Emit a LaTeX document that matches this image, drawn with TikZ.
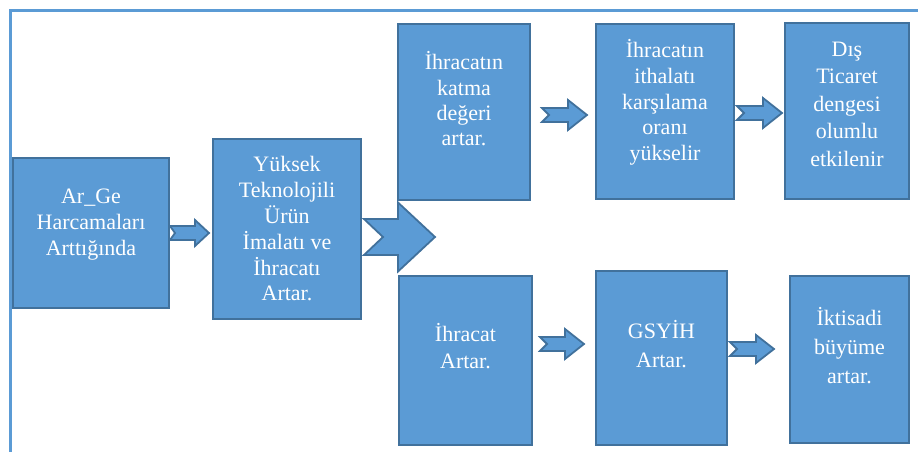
\documentclass[tikz,border=0pt]{standalone}
\usepackage{fontspec}
\setmainfont{Liberation Serif}
\newfontfamily\boxfont{Liberation Serif}
\usepackage{tikz}
\usetikzlibrary{calc}
\definecolor{boxfill}{HTML}{5B9BD5}
\definecolor{boxline}{HTML}{41719C}
\tikzset{
  flowrect/.style={rectangle, draw=boxline, fill=boxfill, line width=2pt, inner sep=0pt},
  flowtext/.style={align=center, text=white, inner sep=0pt},
  fatarrow/.style={draw=boxline, fill=boxfill, line width=1.8pt, line join=miter},
  frameline/.style={draw=boxfill, line width=2.5pt}
}
\newcommand{\flowbox}[4] {\node at (#1) (#2) [flowrect, minimum width=#3pt, minimum height=#4pt] {};}
\newcommand{\flowtext}[4] {\node at ([yshift=#2pt]#1.center) (#1text) [flowtext, font=\boxfont\fontsize{22}{#3}\selectfont] {#4};}
\newcommand{\notcharrow}[6] {\draw [fatarrow] let \p1=(#1), \p2=(#2) in
  (\x1,\y1+#3pt) -- (\x2-#5pt,\y1+#3pt) -- (\x2-#5pt,\y1+#4pt) -- (\x2,\y1)
  -- (\x2-#5pt,\y1-#4pt) -- (\x2-#5pt,\y1-#3pt) -- (\x1,\y1-#3pt) -- (\x1+#6pt,\y1) -- cycle;}

\begin{document}
\begin{tikzpicture}[x=1pt, y=-1pt]
\useasboundingbox (0,0) rectangle (918,452);
\draw [frameline] (10.5,452) -- (10.5,10.5) -- (918,10.5);

\flowbox {91,233} {b1} {156} {150};
\flowbox {287,229} {b2} {148} {180};
\flowbox {464,112} {b3} {132} {176};
\flowbox {665,111.5} {b4} {138} {175};
\flowbox {847,111} {b5} {124} {176};
\flowbox {465.5,360.5} {b6} {133} {169};
\flowbox {661.5,358} {b7} {131} {174};
\flowbox {849.5,359.5} {b8} {119} {167};

\flowtext {b1} {8.6} {26} {Ar\_Ge\\Harcamaları\\Arttığında};
\flowtext {b2} {0} {25.8} {Yüksek\\Teknolojili\\Ürün\\İmalatı ve\\İhracatı\\Artar.};
\flowtext {b3} {13} {25.3} {İhracatın\\katma\\değeri\\artar.};
\flowtext {b4} {9.1} {25.75} {İhracatın\\ithalatı\\karşılama\\oranı\\yükselir};
\flowtext {b5} {7} {27.5} {Dış\\Ticaret\\dengesi\\olumlu\\etkilenir};
\flowtext {b6} {14} {27} {İhracat\\Artar.};
\flowtext {b7} {13.5} {29} {GSYİH\\Artar.};
\flowtext {b8} {13.5} {29} {İktisadi\\büyüme\\artar.};

\notcharrow {b1.east} {[xshift=-3pt]b2.west} {7} {13} {14} {5};
\notcharrow {[xshift=2pt,yshift=-8pt]b2.east} {[xshift=38pt]b3.west} {18} {34.5} {37} {19};
\notcharrow {[xshift=11pt,yshift=-3pt]b3.east} {[xshift=-8pt]b4.west} {7} {15} {19} {7};
\notcharrow {[xshift=2pt,yshift=-1.5pt]b4.east} {[xshift=-2pt]b5.west} {7} {15} {19} {7};
\notcharrow {[xshift=7pt,yshift=16.5pt]b6.east} {[xshift=-11pt]b7.west} {7} {15} {19} {7};
\notcharrow {[xshift=2pt,yshift=9pt]b7.east} {[xshift=-15pt]b8.west} {7} {14} {18} {7};

\end{tikzpicture}
\end{document}
